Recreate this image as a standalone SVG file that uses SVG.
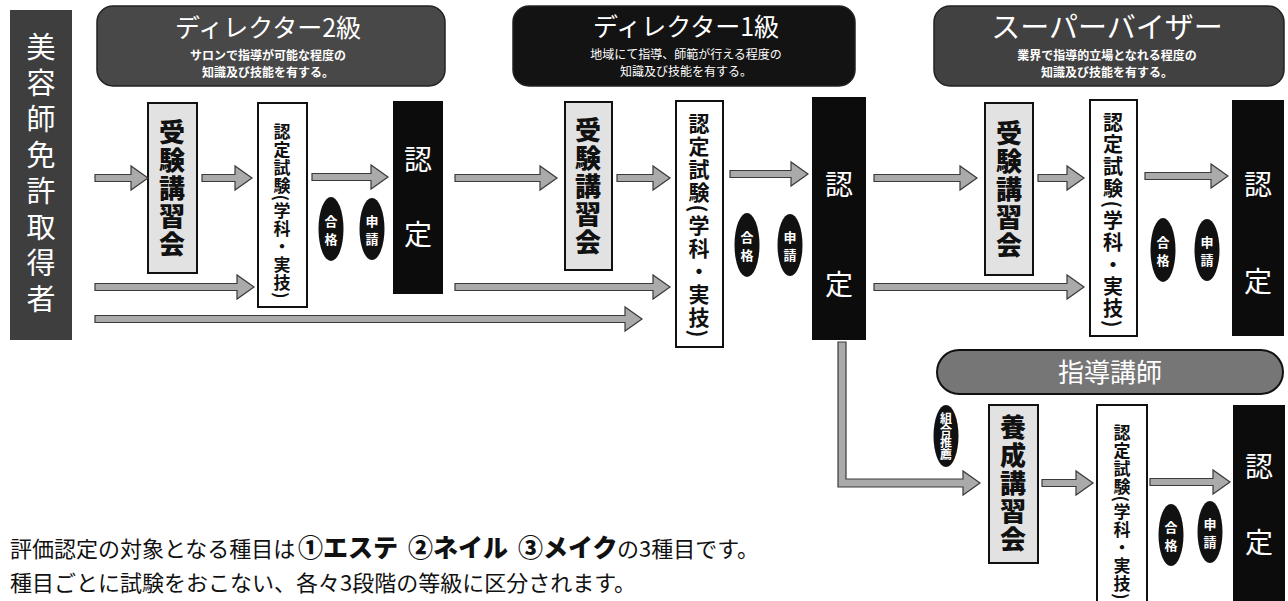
<svg xmlns="http://www.w3.org/2000/svg" width="1288" height="601" viewBox="0 0 1288 601">
<style>
text{font-family:"Noto Sans CJK JP","Noto Sans CJK SC",sans-serif;}
.v{writing-mode:vertical-rl;text-anchor:middle;}
.hdr{fill:#484848;stroke:#222;stroke-width:1.5;}
.ttl{fill:#fff;font-size:25px;text-anchor:middle;}
.sub{fill:#fff;font-size:12px;font-weight:700;text-anchor:middle;}
.lec{fill:#e2e2e2;stroke:#111;stroke-width:2;}
.lect{font-size:26px;font-weight:900;fill:#111;letter-spacing:2px;}
.exam{fill:#fff;stroke:#111;stroke-width:2;}
.examt{font-size:17px;font-weight:700;fill:#111;letter-spacing:1px;}
.cert{fill:#0c0c0c;}
.certt{fill:#fff;font-size:28px;text-anchor:middle;}
.ov{fill:#111;}
.ovt{fill:#fff;font-size:13px;font-weight:700;text-anchor:middle;}
.arr{fill:#aaaaaa;stroke:#3a3a3a;stroke-width:1.2;}
.note{font-size:22px;fill:#111;}
.kw{font-size:25px;font-weight:900;fill:#111;}
</style>

<g id="licensee">
<rect x="10" y="10" width="62" height="330" fill="#3e3e3e"/>
<text class="v" x="41" y="176" style="fill:#fff;font-size:29px;letter-spacing:7px;">美容師免許取得者</text>
</g>

<g id="hdr-director2">
<rect class="hdr" x="97" y="6" width="348" height="80" rx="16"/>
<text class="ttl" x="268" y="37">ディレクター2級</text>
<text class="sub" x="268" y="60">サロンで指導が可能な程度の</text>
<text class="sub" x="268" y="77">知識及び技能を有する。</text>
</g>

<g id="hdr-director1">
<rect class="hdr" x="513" y="6" width="342" height="80" rx="16" style="fill:#131313"/>
<text class="ttl" x="686" y="36">ディレクター1級</text>
<text class="sub" x="686" y="59" style="font-weight:400">地域にて指導、師範が行える程度の</text>
<text class="sub" x="686" y="76" style="font-weight:400">知識及び技能を有する。</text>
</g>

<g id="hdr-supervisor">
<rect class="hdr" x="934" y="6" width="350" height="80" rx="16" style="fill:#414141"/>
<text class="ttl" x="1107" y="38" style="font-size:29px">スーパーバイザー</text>
<text class="sub" x="1107" y="60">業界で指導的立場となれる程度の</text>
<text class="sub" x="1107" y="77">知識及び技能を有する。</text>
</g>

<g id="hdr-instructor">
<rect x="937" y="350" width="346" height="44" rx="22" fill="#767676" stroke="#111" stroke-width="2"/>
<text x="1110" y="382" style="fill:#fff;font-size:26px;text-anchor:middle;">指導講師</text>
</g>

<g id="lecture1">
<rect class="lec" x="148" y="103" width="49" height="170"/>
<text class="v lect" x="172" y="189">受験講習会</text>
</g>
<g id="exam1">
<rect class="exam" x="258" y="103" width="49" height="204"/>
<text class="v examt" x="282" y="211">認定試験(学科・実技)</text>
</g>
<g id="cert1">
<rect class="cert" x="393" y="101" width="50" height="193"/>
<text class="certt" x="418" y="170">認</text>
<text class="certt" x="418" y="245">定</text>
</g>
<g id="pass1"><ellipse class="ov" cx="331" cy="229" rx="12.5" ry="32"/><text class="ovt" x="331" y="226">合</text><text class="ovt" x="331" y="244">格</text></g>
<g id="apply1"><ellipse class="ov" cx="372" cy="229" rx="12.5" ry="31"/><text class="ovt" x="372" y="226">申</text><text class="ovt" x="372" y="244">請</text></g>

<g id="lecture2">
<rect class="lec" x="565" y="102" width="47" height="168"/>
<text class="v lect" x="588" y="187">受験講習会</text>
</g>
<g id="exam2">
<rect class="exam" x="676" y="101" width="47" height="246"/>
<text class="v examt" x="699" y="226" style="font-size:21px;letter-spacing:2px">認定試験(学科・実技)</text>
</g>
<g id="cert2">
<rect class="cert" x="812" y="97" width="54" height="243"/>
<text class="certt" x="839" y="195">認</text>
<text class="certt" x="839" y="295">定</text>
</g>
<g id="pass2"><ellipse class="ov" cx="747" cy="245" rx="12.5" ry="32"/><text class="ovt" x="747" y="242">合</text><text class="ovt" x="747" y="260">格</text></g>
<g id="apply2"><ellipse class="ov" cx="790" cy="245" rx="12.5" ry="31"/><text class="ovt" x="790" y="242">申</text><text class="ovt" x="790" y="260">請</text></g>

<g id="lecture3">
<rect class="lec" x="985" y="103" width="48" height="172"/>
<text class="v lect" x="1009" y="190">受験講習会</text>
</g>
<g id="exam3">
<rect class="exam" x="1090" y="100" width="47" height="236"/>
<text class="v examt" x="1113" y="221" style="font-size:20px;letter-spacing:2px">認定試験(学科・実技)</text>
</g>
<g id="cert3">
<rect class="cert" x="1232" y="100" width="52" height="236"/>
<text class="certt" x="1258" y="195">認</text>
<text class="certt" x="1258" y="292">定</text>
</g>
<g id="pass3"><ellipse class="ov" cx="1163" cy="250" rx="12.5" ry="32"/><text class="ovt" x="1163" y="247">合</text><text class="ovt" x="1163" y="265">格</text></g>
<g id="apply3"><ellipse class="ov" cx="1207" cy="250" rx="12.5" ry="31"/><text class="ovt" x="1207" y="247">申</text><text class="ovt" x="1207" y="265">請</text></g>

<g id="union">
<ellipse class="ov" cx="946" cy="436" rx="12.5" ry="31"/>
<text class="v" x="946" y="436" style="fill:#fff;font-size:12px;font-weight:700;">組合推薦</text>
</g>
<g id="lecture4">
<rect class="lec" x="989" y="405" width="49" height="158"/>
<text class="v lect" x="1013" y="484">養成講習会</text>
</g>
<g id="exam4">
<rect class="exam" x="1097" y="405" width="50" height="200"/>
<text class="v examt" x="1122" y="512">認定試験(学科・実技)</text>
</g>
<g id="cert4">
<rect class="cert" x="1233" y="405" width="52" height="200"/>
<text class="certt" x="1259" y="477">認</text>
<text class="certt" x="1259" y="553">定</text>
</g>
<g id="pass4"><ellipse class="ov" cx="1171" cy="535" rx="12.5" ry="31"/><text class="ovt" x="1171" y="532">合</text><text class="ovt" x="1171" y="550">格</text></g>
<g id="apply4"><ellipse class="ov" cx="1210" cy="532" rx="12.5" ry="31"/><text class="ovt" x="1210" y="529">申</text><text class="ovt" x="1210" y="547">請</text></g>

<g id="connectors">
<path class="arr" d="M95,174.5H131V166L148,178L131,190V181.5H95Z"/>
<path class="arr" d="M202,174.5H235V166L252,178L235,190V181.5H202Z"/>
<path class="arr" d="M312,173.5H371V165L388,177L371,189V180.5H312Z"/>
<path class="arr" d="M95,283.5H237V275L254,287L237,299V290.5H95Z"/>
<path class="arr" d="M95,315.5H625V307L642,319L625,331V322.5H95Z"/>
<path class="arr" d="M455,174.5H540V166L557,178L540,190V181.5H455Z"/>
<path class="arr" d="M617,174.5H653V166L670,178L653,190V181.5H617Z"/>
<path class="arr" d="M730,170.5H791V162L808,174L791,186V177.5H730Z"/>
<path class="arr" d="M455,283.5H653V275L670,287L653,299V290.5H455Z"/>
<path class="arr" d="M874,174.5H960V166L977,178L960,190V181.5H874Z"/>
<path class="arr" d="M1038,174.5H1067V166L1084,178L1067,190V181.5H1038Z"/>
<path class="arr" d="M1145,172.5H1211V164L1228,176L1211,188V179.5H1145Z"/>
<path class="arr" d="M874,283.5H1067V275L1084,287L1067,299V290.5H874Z"/>
<path class="arr" d="M838,342V487H963V495L980,483L963,471V479H846V342Z"/>
<path class="arr" d="M1042,479.5H1076V471L1093,483L1076,495V486.5H1042Z"/>
<path class="arr" d="M1150,478.5H1213V470L1230,482L1213,494V485.5H1150Z"/>
</g>

<g id="note">
<text class="note" x="10" y="557">評価認定の対象となる種目は</text>
<text class="kw" x="298" y="557">①エステ</text>
<text class="kw" x="408" y="557">②ネイル</text>
<text class="kw" x="518" y="557">③メイク</text>
<text class="note" x="617" y="557">の3種目です。</text>
<text class="note" x="10" y="591">種目ごとに試験をおこない、各々3段階の等級に区分されます。</text>
</g>
</svg>
